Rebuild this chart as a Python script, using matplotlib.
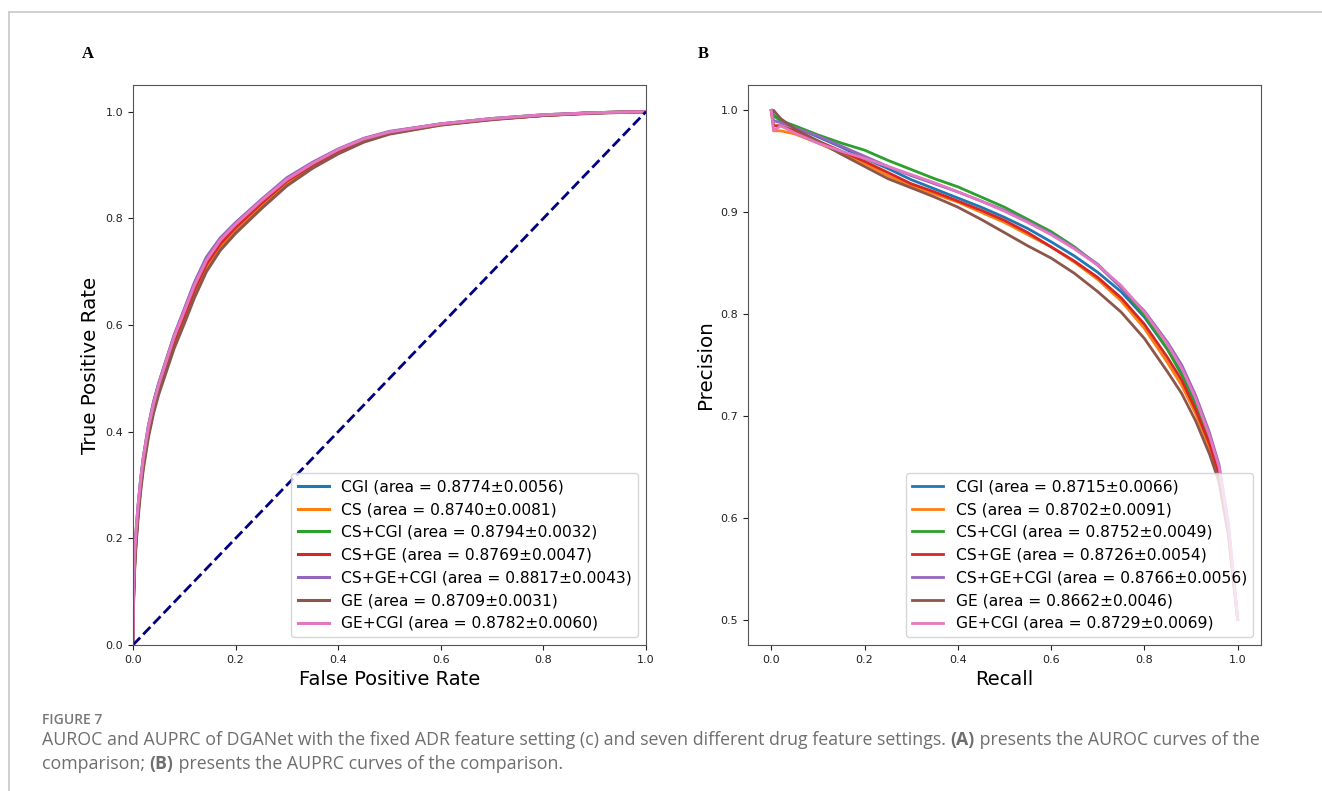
import matplotlib
matplotlib.use("Agg")
import matplotlib.pyplot as plt
from matplotlib.lines import Line2D

# ---------------- data ----------------
series_names = ["CGI", "CS", "CS+CGI", "CS+GE", "CS+GE+CGI", "GE", "GE+CGI"]
roc_auc_text = ["0.8774±0.0056", "0.8740±0.0081", "0.8794±0.0032", "0.8769±0.0047",
                "0.8817±0.0043", "0.8709±0.0031", "0.8782±0.0060"]
pr_auc_text = ["0.8715±0.0066", "0.8702±0.0091", "0.8752±0.0049", "0.8726±0.0054",
               "0.8766±0.0056", "0.8662±0.0046", "0.8729±0.0069"]

fpr = [0, 0.001, 0.003, 0.006, 0.01, 0.015, 0.02, 0.03, 0.04, 0.05, 0.065, 0.08, 0.1, 0.12,
       0.143, 0.17, 0.2, 0.25, 0.3, 0.35, 0.4, 0.45, 0.5, 0.6, 0.7, 0.8, 0.9, 1.0]
tpr_cgi = [0, 0.09, 0.15, 0.20, 0.25, 0.30, 0.34, 0.40, 0.447, 0.483, 0.528, 0.572, 0.620, 0.669,
           0.716, 0.754, 0.784, 0.829, 0.870, 0.900, 0.926, 0.947, 0.961, 0.976, 0.986, 0.993, 0.998, 1.0]
tpr_cs = [0, 0.09, 0.15, 0.20, 0.25, 0.295, 0.335, 0.395, 0.440, 0.476, 0.520, 0.563, 0.610, 0.660,
          0.707, 0.746, 0.777, 0.823, 0.865, 0.897, 0.923, 0.945, 0.959, 0.975, 0.986, 0.993, 0.998, 1.0]
tpr_cs_cgi = [0, 0.10, 0.16, 0.21, 0.26, 0.31, 0.35, 0.41, 0.455, 0.490, 0.535, 0.579, 0.628, 0.678,
              0.724, 0.761, 0.790, 0.834, 0.874, 0.904, 0.929, 0.949, 0.962, 0.977, 0.987, 0.994, 0.998, 1.0]
tpr_cs_ge = [0, 0.09, 0.15, 0.20, 0.25, 0.30, 0.34, 0.40, 0.446, 0.482, 0.527, 0.570, 0.618, 0.667,
             0.714, 0.752, 0.783, 0.828, 0.870, 0.900, 0.926, 0.947, 0.961, 0.976, 0.986, 0.993, 0.998, 1.0]
tpr_cs_ge_cgi = [0, 0.10, 0.16, 0.21, 0.26, 0.31, 0.35, 0.41, 0.455, 0.490, 0.535, 0.580, 0.630, 0.680,
                 0.727, 0.763, 0.792, 0.835, 0.876, 0.905, 0.930, 0.950, 0.963, 0.977, 0.987, 0.994, 0.998, 1.0]
tpr_ge = [0, 0.08, 0.14, 0.19, 0.24, 0.29, 0.33, 0.39, 0.435, 0.470, 0.513, 0.556, 0.603, 0.652,
          0.700, 0.740, 0.772, 0.818, 0.861, 0.894, 0.921, 0.943, 0.958, 0.975, 0.985, 0.993, 0.997, 1.0]
tpr_ge_cgi = [0, 0.11, 0.17, 0.215, 0.262, 0.31, 0.35, 0.408, 0.452, 0.488, 0.533, 0.577, 0.626, 0.675,
              0.721, 0.759, 0.789, 0.833, 0.873, 0.903, 0.929, 0.949, 0.962, 0.977, 0.987, 0.994, 0.998, 1.0]
tpr_all = [tpr_cgi, tpr_cs, tpr_cs_cgi, tpr_cs_ge, tpr_cs_ge_cgi, tpr_ge, tpr_ge_cgi]

recall = [0, 0.005, 0.02, 0.05, 0.1, 0.15, 0.2, 0.25, 0.3, 0.35, 0.4, 0.45, 0.5, 0.55, 0.6,
          0.65, 0.7, 0.75, 0.8, 0.85, 0.88, 0.91, 0.94, 0.96, 0.98, 1.0]
prec_cgi = [1.0, 0.995, 0.990, 0.984, 0.974, 0.964, 0.953, 0.943, 0.932, 0.923, 0.914, 0.905, 0.895,
            0.884, 0.871, 0.857, 0.841, 0.822, 0.797, 0.765, 0.742, 0.712, 0.677, 0.647, 0.590, 0.5]
prec_cs = [1.0, 0.980, 0.980, 0.977, 0.968, 0.958, 0.948, 0.936, 0.926, 0.918, 0.910, 0.900, 0.890,
           0.878, 0.866, 0.851, 0.834, 0.813, 0.786, 0.752, 0.730, 0.702, 0.668, 0.640, 0.585, 0.5]
prec_cs_cgi = [1.0, 0.995, 0.990, 0.985, 0.976, 0.968, 0.961, 0.951, 0.942, 0.933, 0.925, 0.915, 0.905,
               0.893, 0.881, 0.866, 0.848, 0.826, 0.799, 0.765, 0.740, 0.710, 0.675, 0.645, 0.590, 0.5]
prec_cs_ge = [1.0, 0.985, 0.985, 0.980, 0.970, 0.960, 0.950, 0.939, 0.928, 0.920, 0.911, 0.902, 0.892,
              0.880, 0.866, 0.852, 0.836, 0.816, 0.790, 0.757, 0.735, 0.706, 0.672, 0.643, 0.588, 0.5]
prec_cs_ge_cgi = [1.0, 0.990, 0.988, 0.983, 0.975, 0.965, 0.955, 0.945, 0.936, 0.928, 0.920, 0.911, 0.902,
                  0.891, 0.879, 0.865, 0.849, 0.826, 0.803, 0.772, 0.750, 0.720, 0.683, 0.652, 0.595, 0.5]
prec_ge = [1.0, 1.0, 0.992, 0.982, 0.970, 0.957, 0.945, 0.933, 0.924, 0.915, 0.905, 0.893, 0.880,
           0.867, 0.855, 0.840, 0.822, 0.802, 0.776, 0.743, 0.722, 0.695, 0.662, 0.635, 0.583, 0.5]
prec_ge_cgi = [1.0, 0.980, 0.985, 0.978, 0.968, 0.960, 0.953, 0.945, 0.937, 0.929, 0.920, 0.911, 0.901,
               0.890, 0.878, 0.864, 0.848, 0.828, 0.802, 0.770, 0.747, 0.717, 0.680, 0.650, 0.592, 0.5]
prec_all = [prec_cgi, prec_cs, prec_cs_cgi, prec_cs_ge, prec_cs_ge_cgi, prec_ge, prec_ge_cgi]

colors = ["#1f77b4", "#ff7f0e", "#2ca02c", "#d62728", "#9467bd", "#8c564b", "#e377c2"]

caption_title = "FIGURE 7"
caption_line1 = [("AUROC and AUPRC of DGANet with the fixed ADR feature setting (c) and seven different drug feature settings. ", "normal"),
                 ("(A)", "bold"), (" presents the AUROC curves of the", "normal")]
caption_line2 = [("comparison; ", "normal"), ("(B)", "bold"), (" presents the AUPRC curves of the comparison.", "normal")]

# ---------------- figure ----------------
W, H = 1322, 791
fig = plt.figure(figsize=(W / 100, H / 100), dpi=100)
fig.patch.set_facecolor("white")

# page frame lines
fig.add_artist(Line2D([9 / W, 1.0], [1 - 12 / H, 1 - 12 / H], color="#cccccc", lw=1.3))
fig.add_artist(Line2D([9 / W, 9 / W], [0, 1 - 12 / H], color="#cccccc", lw=1.3))

axA = fig.add_axes([133 / W, 1 - 645 / H, 513 / W, 560 / H])
axB = fig.add_axes([748 / W, 1 - 645 / H, 513 / W, 560 / H])

for name, auc, t, c in zip(series_names, roc_auc_text, tpr_all, colors):
    axA.plot(fpr, t, color=c, lw=2.2, label=f"{name} (area = {auc})")
axA.plot([0, 1], [0, 1], color="navy", lw=2, ls="--")
axA.set_xlim(0.0, 1.0)
axA.set_ylim(0.0, 1.05)
axA.set_xlabel("False Positive Rate", fontsize=14)
axA.set_ylabel("True Positive Rate", fontsize=14.3)
axA.legend(loc="lower right", fontsize=11.2, handlelength=2.0, borderaxespad=0.5)

for name, auc, p, c in zip(series_names, pr_auc_text, prec_all, colors):
    axB.plot(recall, p, color=c, lw=2, label=f"{name} (area = {auc})")
axB.set_xlabel("Recall", fontsize=14)
axB.set_ylabel("Precision", fontsize=14.3)
axB.legend(loc="lower right", fontsize=11.2, handlelength=2.0, borderaxespad=0.5)

for ax in (axA, axB):
    ax.tick_params(labelsize=8, colors="#222222")
    for s in ax.spines.values():
        s.set_color("#555555")
    ax.set_xticks([0.0, 0.2, 0.4, 0.6, 0.8, 1.0])

fig.text(88 / W, 1 - 54 / H, "A", fontsize=12, fontweight="bold", family="Liberation Serif",
         ha="center", va="center")
fig.text(703 / W, 1 - 54 / H, "B", fontsize=12, fontweight="bold", family="Liberation Serif",
         ha="center", va="center")

# caption
cap_color = "#6e6e6e"
fig.text(42 / W, 1 - 720 / H, caption_title, fontsize=10, color="#777777", family="Open Sans",
         fontweight="semibold", va="center", ha="left")

renderer = fig.canvas.get_renderer()

def draw_line(parts, y, size):
    x = 42
    for txt, wt in parts:
        t = fig.text(x / W, 1 - y / H, txt, fontsize=size, color=cap_color, family="Open Sans",
                     fontweight=wt, va="center", ha="left")
        bb = t.get_window_extent(renderer=renderer)
        x += bb.width

draw_line(caption_line1, 740, 12.8)
draw_line(caption_line2, 764, 12.8)

fig.savefig("out.png", dpi=100, facecolor="white")
